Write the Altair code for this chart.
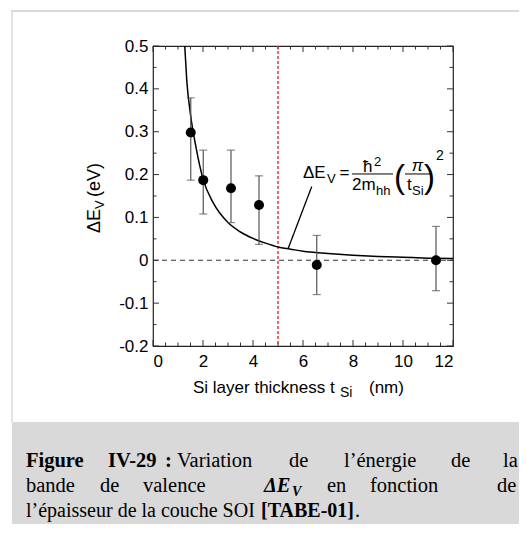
import altair as alt
import pandas as pd

# ---------------- data ----------------
thickness = [1.51, 2.01, 3.12, 4.24, 6.55, 11.32]
delta_ev = [0.298, 0.187, 0.168, 0.129, -0.011, 0.0]
err_low = [0.187, 0.108, 0.088, 0.037, -0.080, -0.071]
err_high = [0.379, 0.257, 0.257, 0.197, 0.058, 0.079]

curve_t = [1.27, 1.35, 1.5, 1.7, 2.0, 2.4, 3.0, 3.5, 4.0, 4.5, 5.0, 5.5, 6.0, 7.0, 8.0, 9.0, 10.0, 11.0, 12.0]
curve_e = [0.50, 0.42, 0.34, 0.27, 0.19, 0.135, 0.088, 0.066, 0.051, 0.040, 0.031, 0.026, 0.021, 0.016, 0.012, 0.009, 0.007, 0.005, 0.004]

x_major = [0, 2, 4, 6, 8, 10, 12]
x_minor = [0.5, 1, 1.5, 2.5, 3, 3.5, 4.5, 5, 5.5, 6.5, 7, 7.5, 8.5, 9, 9.5, 10.5, 11, 11.5]
y_major = [-0.2, -0.1, 0.0, 0.1, 0.2, 0.3, 0.4, 0.5]
y_minor = [-0.15, -0.05, 0.05, 0.15, 0.25, 0.35, 0.45]

vline_t = [5]
zero_e = [0]
leader_t = [5.41, 6.35]
leader_e = [0.028, 0.172]

# ---------------- scales / axes ----------------
SANS = "Liberation Sans"
xscale = alt.Scale(domain=[0, 12], nice=False, zero=False)
yscale = alt.Scale(domain=[-0.2, 0.5], nice=False, zero=False)
xaxis = alt.Axis(values=x_major, format="d", ticks=False, tickSize=0, domain=False, grid=False,
                 labelPadding=7, labelFont=SANS, labelFontSize=17, labelColor="black", title=None)
yaxis = alt.Axis(values=y_major, ticks=False, tickSize=0, domain=False, grid=False,
                 labelExpr="datum.value == 0 ? '0' : (datum.value < 0 ? '-' : '') + format(abs(datum.value), '.1f')",
                 labelPadding=5, labelFont=SANS, labelFontSize=17, labelColor="black", title=None)


def X(f):
    return alt.X(f, type="quantitative", scale=xscale, axis=xaxis)


def Y(f):
    return alt.Y(f, type="quantitative", scale=yscale, axis=yaxis)


one = alt.Data(values=[{"a": 1}])

pts = pd.DataFrame({"t": thickness, "e": delta_ev, "lo": err_low, "hi": err_high})
curve = pd.DataFrame({"t": curve_t, "e": curve_e})
leader = pd.DataFrame({"t": leader_t, "e": leader_e})

layers = []

# decorative frame / caption box (pixel coordinates relative to plot origin)
layers.append(alt.Chart(one).mark_rect(color="#d9d9d9").encode(
    x=alt.value(-141), x2=alt.value(380), y=alt.value(376), y2=alt.value(500)))
layers.append(alt.Chart(one).mark_rule(color="#dadada", strokeWidth=2).encode(
    x=alt.value(-141), x2=alt.value(380), y=alt.value(-35)))
layers.append(alt.Chart(one).mark_rule(color="#dadada", strokeWidth=1.5).encode(
    x=alt.value(-141), y=alt.value(-36), y2=alt.value(376)))

# ticks (inward, all four sides)
tx_major = pd.DataFrame({"v": x_major})
tx_minor = pd.DataFrame({"v": x_minor})
ty_major = pd.DataFrame({"v": y_major})
ty_minor = pd.DataFrame({"v": y_minor})
TC = "#333333"
for df, L in ((tx_major, 6), (tx_minor, 3.5)):
    layers.append(alt.Chart(df).mark_rule(color=TC, strokeWidth=1).encode(
        x=X("v"), y=alt.value(300), y2=alt.value(300 - L)))
    layers.append(alt.Chart(df).mark_rule(color=TC, strokeWidth=1).encode(
        x=X("v"), y=alt.value(0), y2=alt.value(L)))
for df, L in ((ty_major, 6), (ty_minor, 3.5)):
    layers.append(alt.Chart(df).mark_rule(color=TC, strokeWidth=1).encode(
        y=Y("v"), x=alt.value(0), x2=alt.value(L)))
    layers.append(alt.Chart(df).mark_rule(color=TC, strokeWidth=1).encode(
        y=Y("v"), x=alt.value(300), x2=alt.value(300 - L)))

# zero dashed line
layers.append(alt.Chart(pd.DataFrame({"e": zero_e})).mark_rule(
    color="#333333", strokeWidth=1.1, strokeDash=[5, 4]).encode(
    y=Y("e"), x=alt.value(0), x2=alt.value(300)))
# red dashed vertical line
layers.append(alt.Chart(pd.DataFrame({"t": vline_t})).mark_rule(
    color="#e8262d", strokeWidth=1.4, strokeDash=[3, 2]).encode(
    x=X("t"), y=alt.value(0), y2=alt.value(300)))

# theory curve
layers.append(alt.Chart(curve).mark_line(color="black", strokeWidth=1.5, interpolate="monotone").encode(
    x=X("t"), y=Y("e")))
# leader line
layers.append(alt.Chart(leader).mark_line(color="black", strokeWidth=1.3).encode(
    x=X("t"), y=Y("e")))

# error bars
layers.append(alt.Chart(pts).mark_rule(color="#555555", strokeWidth=1.2).encode(
    x=X("t"), y=Y("lo"), y2="hi"))
layers.append(alt.Chart(pts).mark_tick(color="#555555", orient="horizontal", size=8, thickness=1.2).encode(
    x=X("t"), y=Y("lo")))
layers.append(alt.Chart(pts).mark_tick(color="#555555", orient="horizontal", size=8, thickness=1.2).encode(
    x=X("t"), y=Y("hi")))
# points
layers.append(alt.Chart(pts).mark_circle(color="black", opacity=1, size=100).encode(
    x=X("t"), y=Y("e")))


# formula annotation (data coordinates)
def ftext(label, t, e, size, align="left", style="normal"):
    d = pd.DataFrame({"t": [t], "e": [e]})
    return alt.Chart(d).mark_text(text=label, font=SANS, fontSize=size, align=align, fontStyle=style,
                                  baseline="alphabetic", color="black").encode(x=X("t"), y=Y("e"))


layers += [
    ftext("ΔE", 6.0, 0.192, 17),
    ftext("V", 6.96, 0.180, 13),
    ftext("=", 7.46, 0.192, 17),
    ftext("ħ", 8.4, 0.206, 17),
    ftext("2", 8.84, 0.220, 13),
    ftext("2m", 7.96, 0.164, 17),
    ftext("hh", 8.92, 0.152, 13),
    ftext("(", 9.64, 0.169, 33),
    ftext(")", 10.84, 0.169, 33),
    ftext("π", 10.58, 0.208, 17, align="center", style="italic"),
    ftext("t", 10.16, 0.164, 17),
    ftext("Si", 10.36, 0.152, 13),
    ftext("2", 11.32, 0.234, 14),
]
bars = pd.DataFrame({"t": [7.96, 10.08], "t2": [9.6, 11.08], "e": [0.2014, 0.2014]})
layers.append(alt.Chart(bars).mark_rule(color="black", strokeWidth=1).encode(
    x=X("t"), x2="t2", y=Y("e")))


# pixel-positioned text (axis titles, caption)
def ptext(label, x, y, size, font=SANS, weight="normal", style="normal", angle=0):
    return alt.Chart(one).mark_text(text=label, font=font, fontSize=size, fontWeight=weight, fontStyle=style,
                                    align="left", baseline="alphabetic", angle=angle, color="black").encode(
        x=alt.value(x), y=alt.value(y))


layers += [
    ptext("Si layer thickness t", 40, 347, 17),
    ptext("Si", 187, 351, 14),
    ptext("(nm)", 216, 347, 17),
    ptext("ΔE", -53, 187, 18, angle=270),
    ptext("V", -49, 163, 13, angle=270),
    ptext("(eV)", -53, 151, 18, angle=270),
]

SERIF = "Liberation Serif"
CS = 20.5
OX = 153
line1 = 421
line2 = 446
line3 = 471
layers += [
    ptext("Figure", 26 - OX, line1, CS, SERIF, "bold"),
    ptext("IV-29", 108 - OX, line1, CS, SERIF, "bold"),
    ptext(":", 165 - OX, line1, CS, SERIF, "bold"),
    ptext("Variation", 177 - OX, line1, CS, SERIF),
    ptext("de", 289 - OX, line1, CS, SERIF),
    ptext("l’énergie", 344 - OX, line1, CS, SERIF),
    ptext("de", 451 - OX, line1, CS, SERIF),
    ptext("la", 503 - OX, line1, CS, SERIF),
    ptext("bande", 26 - OX, line2, CS, SERIF),
    ptext("de", 100 - OX, line2, CS, SERIF),
    ptext("valence", 143 - OX, line2, CS, SERIF),
    ptext("ΔE", 264 - OX, line2, CS, SERIF, "bold", "italic"),
    ptext("V", 292 - OX, line2 + 4, 14, SERIF, "bold", "italic"),
    ptext("en", 327 - OX, line2, CS, SERIF),
    ptext("fonction", 370 - OX, line2, CS, SERIF),
    ptext("de", 497 - OX, line2, CS, SERIF),
    ptext("l’épaisseur de la couche SOI", 26 - OX, line3, 20, SERIF),
    ptext("[TABE-01]", 261 - OX, line3, 20, SERIF, "bold"),
    ptext(".", 355 - OX, line3, 20, SERIF),
]

chart = alt.layer(*layers).properties(
    width=300, height=300,
    autosize=alt.AutoSizeParams(type="none"),
    padding={"left": 145, "top": 38, "right": 66, "bottom": 178},
    background="white",
).configure_view(stroke="#222222", strokeWidth=1.2)

chart.save("out.html", embed_options={"renderer": "svg", "actions": False})
